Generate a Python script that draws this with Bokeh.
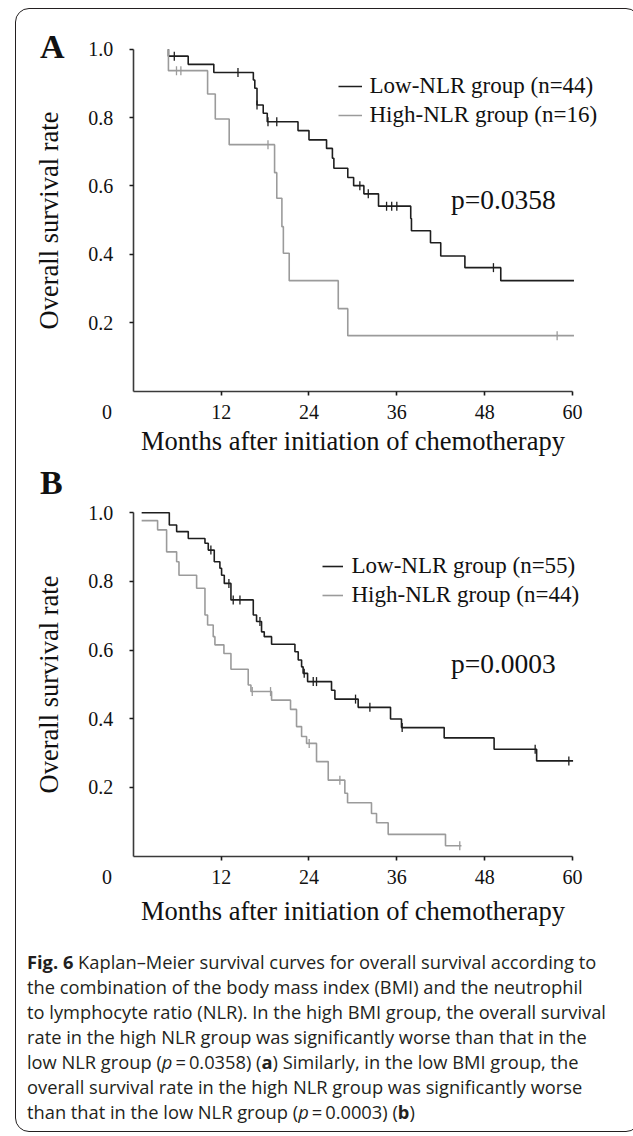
import numpy as np
from bokeh.plotting import figure
from bokeh.models import Range1d, Label, Legend, LegendItem, Div, FixedTicker, NumeralTickFormatter
from bokeh.layouts import column
from bokeh.embed import file_html
from bokeh.resources import INLINE

# ---------------- data ----------------
# Panel A : high BMI group
a_low_t = [4.8, 4.8, 7.5, 11.0, 16.4, 16.6, 16.9, 17.75, 18.3, 22.5, 24.0, 26.4, 27.2, 27.4,
           29.3, 30.1, 31.5, 33.5, 37.9, 38.0, 40.6, 42.0, 45.3, 50.2, 60.2]
a_low_s = [1.0, 0.980, 0.956, 0.932, 0.910, 0.886, 0.837, 0.813, 0.788, 0.762, 0.735, 0.710,
           0.681, 0.652, 0.625, 0.601, 0.577, 0.541, 0.505, 0.469, 0.434, 0.395, 0.361, 0.323, 0.323]
a_low_cens = [5.6, 14.3, 16.9, 18.4, 19.6, 30.95, 32.1, 34.6, 35.3, 36.0, 49.2]

a_high_t = [4.8, 4.8, 10.15, 11.2, 13.1, 19.3, 19.6, 20.3, 20.5, 21.3, 28.0, 29.3, 60.2]
a_high_s = [1.0, 0.9375, 0.869, 0.796, 0.721, 0.639, 0.564, 0.481, 0.403, 0.323, 0.241, 0.162, 0.162]
a_high_cens = [5.9, 6.5, 18.4, 57.9]

# Panel B : low BMI group
b_low_t = [1.14, 4.92, 5.92, 7.51, 9.79, 10.24, 11.06, 11.83, 12.06, 12.43, 13.34, 16.39, 16.84,
           17.52, 17.89, 18.89, 22.08, 22.53, 22.99, 23.2, 23.81, 27.08, 27.54, 30.72, 35.14,
           36.64, 42.47, 49.29, 55.1, 60.08]
b_low_s = [1.0, 0.964, 0.945, 0.925, 0.911, 0.891, 0.857, 0.838, 0.818, 0.794, 0.746, 0.702, 0.683,
           0.653, 0.639, 0.617, 0.595, 0.571, 0.551, 0.532, 0.508, 0.483, 0.457, 0.433, 0.399,
           0.374, 0.344, 0.311, 0.277, 0.277]
b_low_cens = [10.6, 13.06, 13.65, 14.57, 17.3, 23.35, 24.58, 25.03, 30.36, 32.32, 36.73, 54.9, 59.5]

b_high_t = [1.14, 3.32, 4.55, 5.92, 6.24, 8.65, 9.79, 10.15, 10.92, 11.15, 12.38, 13.34, 15.70,
            16.07, 18.89, 21.48, 22.30, 22.99, 23.67, 25.03, 26.63, 28.90, 29.27, 32.54, 33.23,
            34.82, 42.65, 44.83]
b_high_s = [0.977, 0.950, 0.886, 0.857, 0.818, 0.780, 0.702, 0.673, 0.639, 0.615, 0.590, 0.544,
            0.498, 0.479, 0.454, 0.427, 0.377, 0.348, 0.328, 0.275, 0.221, 0.183, 0.155, 0.124,
            0.097, 0.063, 0.030, 0.030]
b_high_cens = [16.25, 18.75, 24.03, 28.22, 44.6]

x_ticks = [12, 24, 36, 48, 60]
y_ticks = [0.2, 0.4, 0.6, 0.8, 1.0]

SERIF = "Liberation Serif"
BLACK = "#1e1e1e"
GREY = "#9b9b9b"
FIG_W = 613


def level_at(t, s, c):
    t = np.asarray(t); s = np.asarray(s)
    idx = np.searchsorted(t, np.asarray(c), side="right") - 1
    return s[idx]


def panel(letter, lo_t, lo_s, lo_c, hi_t, hi_s, hi_c, lo_lab, hi_lab, ptxt,
          fig_h, x0, xs, y0, ys, leg_px, glyph_w, standoff, letter_y, p_y, title_standoff,
          margin=0):
    # x0/y0: canvas pixel position of the data origin, xs/ys: pixels per unit
    xr = Range1d(-x0 / xs, (FIG_W - x0) / xs)
    yr = Range1d(-(fig_h - y0) / ys, y0 / ys)
    p = figure(width=FIG_W, height=fig_h, x_range=xr, y_range=yr,
               output_backend="svg", toolbar_location=None, margin=margin,
               min_border_left=0, min_border_right=0, min_border_top=0, min_border_bottom=0)
    p.border_fill_alpha = 0
    p.background_fill_alpha = 0
    p.outline_line_color = None
    p.xgrid.visible = False
    p.ygrid.visible = False

    for ax in (p.xaxis[0], p.yaxis[0]):
        ax.fixed_location = 0
        ax.axis_line_color = "#3a3a3a"
        ax.axis_line_width = 1.6
        ax.major_tick_line_color = "#1a1a1a"
        ax.major_tick_line_width = 1.6
        ax.major_tick_out = 4
        ax.major_tick_in = 0
        ax.minor_tick_out = 0
        ax.minor_tick_in = 0
        ax.major_label_text_font = SERIF
        ax.major_label_text_font_size = "20px"
        ax.major_label_text_color = "#111111"
        ax.axis_label_text_font = SERIF
        ax.axis_label_text_font_size = "26.5px"
        ax.axis_label_text_font_style = "normal"
        ax.axis_label_text_color = "#111111"

    p.xaxis.ticker = FixedTicker(ticks=x_ticks)
    p.xaxis.bounds = (0, 60)
    p.xaxis.major_label_standoff = 10
    p.xaxis.axis_label = "Months after initiation of chemotherapy"
    p.xaxis.axis_label_standoff = title_standoff

    p.yaxis.ticker = FixedTicker(ticks=y_ticks)
    p.yaxis.formatter = NumeralTickFormatter(format="0.0")
    p.yaxis.bounds = (0, 1)
    p.yaxis.major_label_standoff = 16
    p.yaxis.axis_label = "Overall survival rate"
    p.yaxis.axis_label_standoff = 22

    r_lo = p.step(lo_t, lo_s, mode="after", line_color=BLACK, line_width=1.6)
    r_hi = p.step(hi_t, hi_s, mode="after", line_color=GREY, line_width=1.6)
    p.scatter(lo_c, level_at(lo_t, lo_s, lo_c), marker="dash", angle=np.pi / 2, size=9,
              line_color=BLACK, line_width=1.3)
    p.scatter(hi_c, level_at(hi_t, hi_s, hi_c), marker="dash", angle=np.pi / 2, size=9,
              line_color=GREY, line_width=1.3)

    legend = Legend(items=[LegendItem(label=lo_lab, renderers=[r_lo]),
                           LegendItem(label=hi_lab, renderers=[r_hi])],
                    location=leg_px, border_line_color=None, background_fill_alpha=0,
                    label_text_font=SERIF, label_text_font_size="23px", label_text_color="#111111",
                    glyph_width=glyph_w, glyph_height=26, label_height=26, label_standoff=standoff,
                    spacing=3, padding=0, margin=0)
    p.add_layout(legend)

    p.add_layout(Label(x=43.4, y=p_y, text=ptxt, text_font=SERIF, text_font_size="27.5px",
                       text_color="#111111", text_baseline="alphabetic"))
    p.add_layout(Label(x=-12.75, y=letter_y, text=letter, text_font=SERIF, text_font_size="34px",
                       text_font_style="bold", text_color="#111111", text_baseline="alphabetic"))
    p.add_layout(Label(x=-3.6, y=-14 / ys, text="0", text_font=SERIF, text_font_size="20px",
                       text_color="#111111", text_align="center", text_baseline="top"))
    return p


pA = panel("A", a_low_t, a_low_s, a_low_cens, a_high_t, a_high_s, a_high_cens,
           "Low-NLR group (n=44)", "High-NLR group (n=16)", "p=0.0358",
           464, 116.8, 7.32, 381.5, 341.7, (321.5, 344.8), 24, 8, 1.008, 0.559, 3)
pB = panel("B", b_low_t, b_low_s, b_low_cens, b_high_t, b_high_s, b_high_cens,
           "Low-NLR group (n=55)", "High-NLR group (n=44)", "p=0.0003",
           480, 116.8, 7.32, 394.5, 343.3, (305.5, 333.5), 21, 9, 1.087, 0.562, 8,
           margin=(-12, 0, 0, 0))

ts = "\u2009=\u2009"
caption_html = (
    "<div style=\"font-family:'Open Sans';font-size:18.3px;line-height:25px;color:#231f20;"
    "white-space:nowrap;padding:3px 0 0 6px;\">"
    "<b>Fig. 6</b> Kaplan–Meier survival curves for overall survival according to<br>"
    "the combination of the body mass index (BMI) and the neutrophil<br>"
    "to lymphocyte ratio (NLR). In the high BMI group, the overall survival<br>"
    "rate in the high NLR group was significantly worse than that in the<br>"
    f"low NLR group (<i>p</i>{ts}0.0358) (<b>a</b>) Similarly, in the low BMI group, the<br>"
    "overall survival rate in the high NLR group was significantly worse<br>"
    f"than that in the low NLR group (<i>p</i>{ts}0.0003) (<b>b</b>)"
    "</div>"
)
caption = Div(text=caption_html, width=FIG_W, height=180)

layout = column(pA, pB, caption, margin=(8, 0, 0, 15),
                styles={"border": "1.5px solid #231f20", "border-radius": "14px",
                        "overflow": "hidden", "background": "white"})

open("out.html", "w").write(file_html(layout, INLINE))
